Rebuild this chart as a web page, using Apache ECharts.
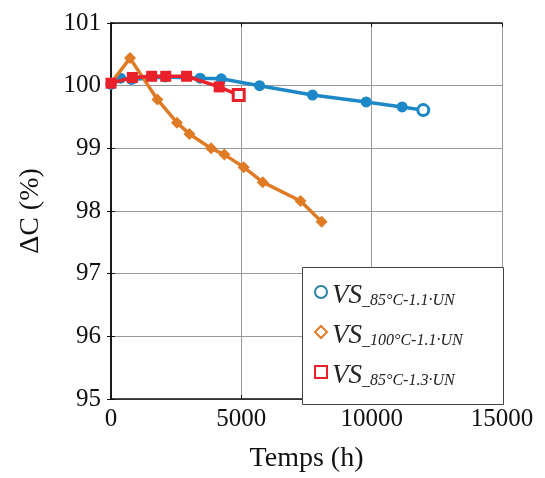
<!DOCTYPE html>
<html><head><meta charset="utf-8">
<script src="https://cdn.jsdelivr.net/npm/echarts@6/dist/echarts.min.js"></script>
<style>html,body{margin:0;padding:0;background:#fff}#c{width:545px;height:478px}</style>
</head><body><div id="c"></div>
<script>
// Data
const xTicks = [0, 5000, 10000, 15000];
const yTicks = [95, 96, 97, 98, 99, 100, 101];
const s1Name = 'VS85_11';
const s1X = [0, 370, 790, 2080, 3420, 4230, 5700, 7730, 9790, 11170, 11980];
const s1Y = [100.02, 100.12, 100.1, 100.14, 100.12, 100.11, 100.0, 99.85, 99.74, 99.66, 99.61];
const s2Name = 'VS100_11';
const s2X = [0, 730, 1780, 2530, 3010, 3840, 4350, 5090, 5820, 7270, 8080];
const s2Y = [100.04, 100.44, 99.78, 99.41, 99.23, 99.0, 98.9, 98.7, 98.46, 98.16, 97.83];
const s3Name = 'VS85_13';
const s3X = [0, 820, 1560, 2100, 2900, 4150, 4900];
const s3Y = [100.04, 100.13, 100.15, 100.15, 100.15, 99.98, 99.85];
const legendSub = {VS85_11: '_85°C-1.1·UN', VS100_11: '_100°C-1.1·UN', VS85_13: '_85°C-1.3·UN'};

const C1 = '#1d88c8', C2 = '#e07b25', C3 = '#e8212b';
const serif = '"Liberation Serif","DejaVu Serif",serif';

function pts(xs, ys, color, hollowLast) {
  return xs.map((x, i) => {
    const d = {value: [x, ys[i]]};
    if (hollowLast && i === xs.length - 1) d.itemStyle = {color: '#fff', borderColor: color, borderWidth: 3};
    return d;
  });
}

const chart = echarts.init(document.getElementById('c'), null, {renderer: 'canvas'});
const axisLbl = {fontFamily: serif, fontSize: 25, color: '#111'};
chart.setOption({
  animation: false,
  grid: {left: 111, right: 43, top: 23, bottom: 76, containLabel: false},
  graphic: [{
    type: 'rect', z: 50, left: 302, top: 267,
    shape: {x: 0, y: 0, width: 201, height: 137},
    style: {fill: '#fff', stroke: '#444', lineWidth: 1}
  }],
  xAxis: [{
    type: 'value', min: 0, max: 15000, interval: 5000,
    axisLine: {show: true, onZero: false, lineStyle: {color: '#111', width: 1.5}},
    axisTick: {show: true, inside: true, length: 4, lineStyle: {color: '#111'}},
    splitLine: {show: true, lineStyle: {color: '#999', width: 1}},
    axisLabel: Object.assign({margin: 8, formatter: v => String(v)}, axisLbl),
    name: 'Temps (h)', nameLocation: 'middle', nameGap: 46,
    nameTextStyle: {fontFamily: serif, fontSize: 28, color: '#111'}
  }, {
    type: 'value', position: 'top', min: 0, max: 15000, interval: 5000,
    axisLine: {show: true, lineStyle: {color: '#111', width: 1.5}},
    axisTick: {show: true, inside: true, length: 4, lineStyle: {color: '#111'}},
    splitLine: {show: false}, axisLabel: {show: false}
  }],
  yAxis: [{
    type: 'value', min: 95, max: 101, interval: 1,
    axisLine: {show: true, onZero: false, lineStyle: {color: '#111', width: 1.5}},
    axisTick: {show: true, inside: true, length: 4, lineStyle: {color: '#111'}},
    splitLine: {show: true, lineStyle: {color: '#999', width: 1}},
    axisLabel: Object.assign({margin: 10}, axisLbl),
    name: 'ΔC (%)', nameLocation: 'middle', nameGap: 66, nameRotate: 90,
    nameTextStyle: {fontFamily: serif, fontSize: 28, color: '#111'}
  }, {
    type: 'value', position: 'right', min: 95, max: 101, interval: 1,
    axisLine: {show: true, lineStyle: {color: '#111', width: 1.5}},
    axisTick: {show: true, inside: true, length: 4, lineStyle: {color: '#111'}},
    splitLine: {show: false}, axisLabel: {show: false}
  }],
  legend: {
    orient: 'vertical', left: 302, top: 267, z: 60,
    padding: [12, 10, 14, 12], itemGap: 10,
    itemWidth: 12, itemHeight: 12,
    data: [
      {name: s1Name, icon: 'circle', itemStyle: {color: '#fff', borderColor: '#2a82a8', borderWidth: 2}},
      {name: s2Name, icon: 'diamond', itemStyle: {color: '#fff', borderColor: C2, borderWidth: 2}},
      {name: s3Name, icon: 'rect', itemStyle: {color: '#fff', borderColor: C3, borderWidth: 2}}
    ],
    formatter: n => '{a|VS}{b|' + legendSub[n] + '}',
    textStyle: {
      rich: {
        a: {fontFamily: serif, fontStyle: 'italic', fontSize: 27, color: '#222', lineHeight: 34, verticalAlign: 'bottom'},
        b: {fontFamily: serif, fontStyle: 'italic', fontSize: 16, color: '#222', lineHeight: 34, padding: [14, 0, 0, 0], verticalAlign: 'bottom'}
      }
    }
  },
  series: [
    {name: s1Name, type: 'line', data: pts(s1X, s1Y, C1, true), symbol: 'circle', symbolSize: 11,
      lineStyle: {color: C1, width: 3.5}, itemStyle: {color: C1}, z: 2},
    {name: s2Name, type: 'line', data: pts(s2X, s2Y, C2, false), symbol: 'diamond', symbolSize: 12,
      lineStyle: {color: C2, width: 3.5}, itemStyle: {color: C2}, z: 3},
    {name: s3Name, type: 'line', data: pts(s3X, s3Y, C3, true), symbol: 'rect', symbolSize: 11,
      lineStyle: {color: C3, width: 3.5}, itemStyle: {color: C3}, z: 4}
  ]
});
</script></body></html>
